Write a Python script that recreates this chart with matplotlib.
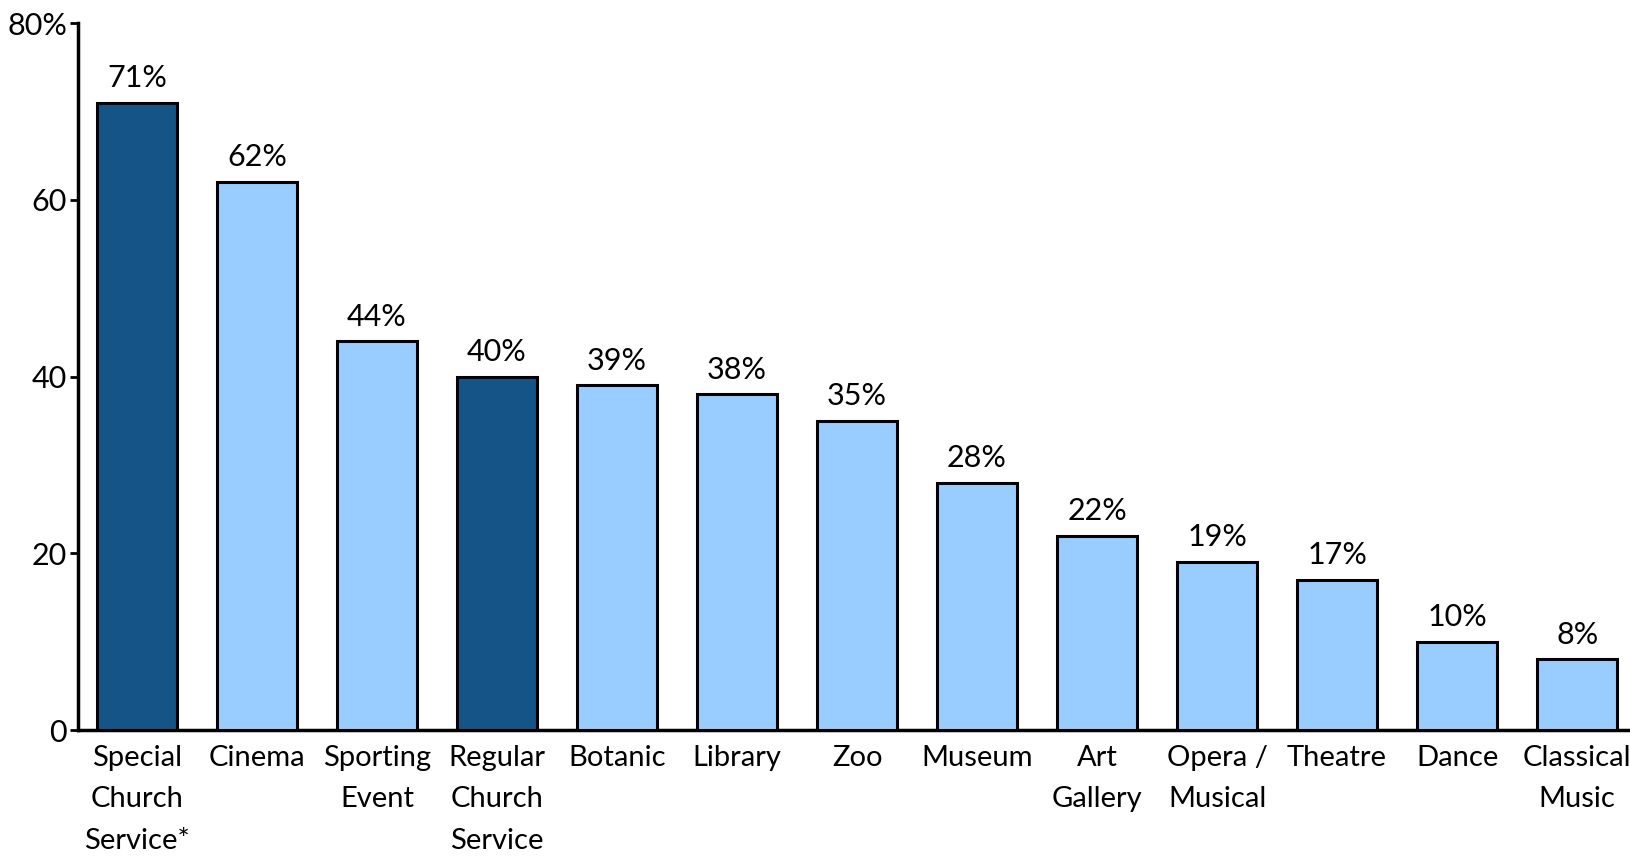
import numpy as np
import matplotlib.pyplot as plt

plt.rcParams['font.family'] = ['Lato', 'DejaVu Sans']

categories = ["Special\nChurch\nService*", "Cinema", "Sporting\nEvent", "Regular\nChurch\nService",
              "Botanic", "Library", "Zoo", "Museum", "Art\nGallery", "Opera /\nMusical",
              "Theatre", "Dance", "Classical\nMusic"]
values = [71, 62, 44, 40, 39, 38, 35, 28, 22, 19, 17, 10, 8]
church = [True, False, False, True, False, False, False, False, False, False, False, False, False]
yticks = [0, 20, 40, 60, 80]
ytick_labels = ["0", "20", "40", "60", "80%"]

W, H = 1630, 859
fig = plt.figure(figsize=(W / 100, H / 100), dpi=100)
ax = fig.add_axes([78 / W, (H - 730) / H, (W - 78) / W, (730 - 23) / H])

x = np.arange(len(values))
colors = ["#145487" if c else "#99CCFF" for c in church]
ax.bar(x, values, width=0.667, color=colors, edgecolor="black", linewidth=2.2, zorder=3)

for xi, v in zip(x, values):
    ax.text(xi, v + 1.2, f"{v}%", ha="center", va="bottom", fontsize=22)

ax.set_xlim(-0.49, 12.44)
ax.set_ylim(0, 80)
ax.set_yticks(yticks)
ax.set_yticklabels(ytick_labels, fontsize=22)
ax.set_xticks(x)
ax.set_xticklabels(categories, fontsize=21, linespacing=1.72, va="top")
ax.tick_params(axis="x", length=0, pad=11)
ax.tick_params(axis="y", length=6, width=2, direction="out", pad=2)

for s in ["top", "right"]:
    ax.spines[s].set_visible(False)
for s in ["left", "bottom"]:
    ax.spines[s].set_linewidth(2.5)

fig.savefig("out.png", dpi=100)
